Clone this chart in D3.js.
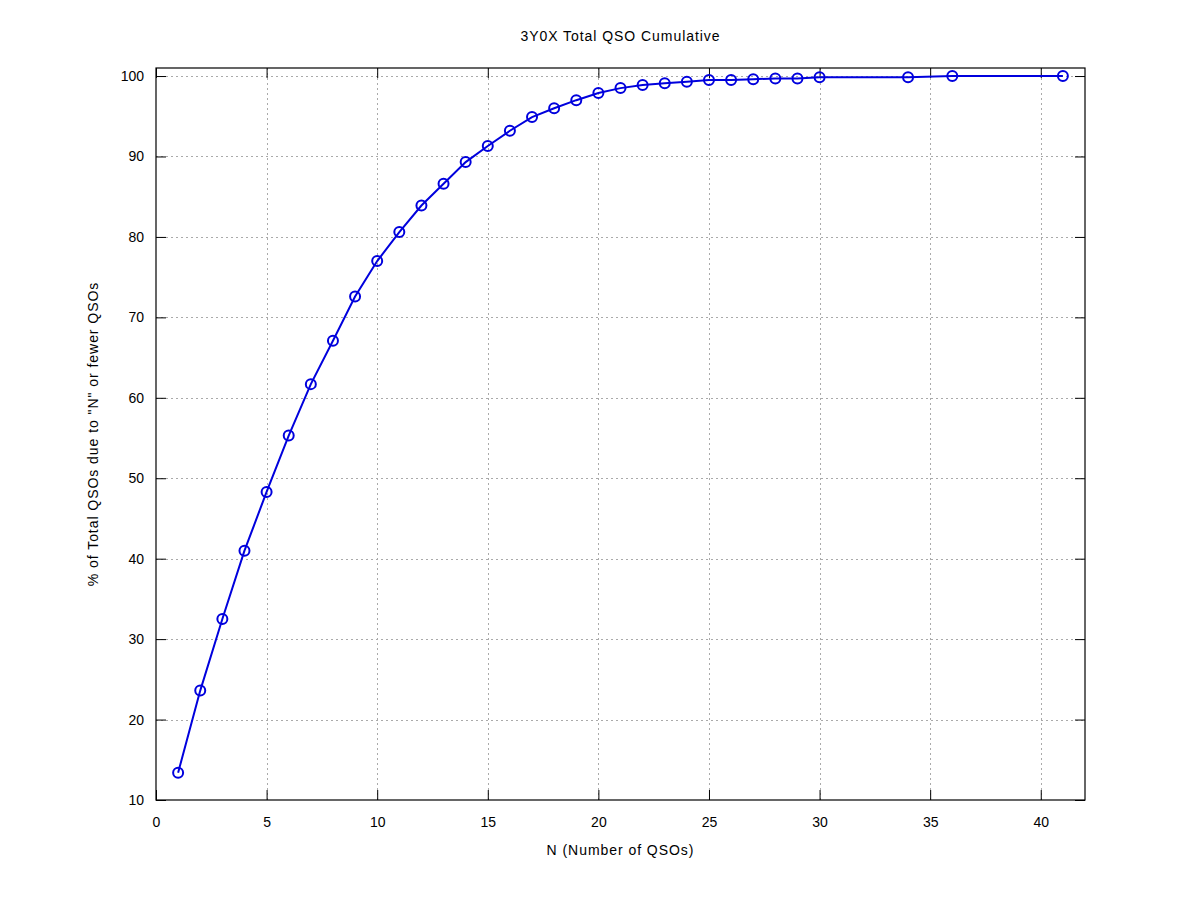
<!DOCTYPE html>
<html><head><meta charset="utf-8">
<script src="https://cdn.jsdelivr.net/npm/d3@7"></script>
<style>body{margin:0;background:#fff}svg{display:block}text{font-family:"Liberation Sans",Arial,sans-serif;}</style>
</head><body>
<svg id="c" width="1200" height="900"></svg>
<script>
const nValues = [1,2,3,4,5,6,7,8,9,10,11,12,13,14,15,16,17,18,19,20,21,22,23,24,25,26,27,28,29,30,34,36,41];
const pctValues = [13.4,23.6,32.5,41.0,48.3,55.3,61.7,67.1,72.6,77.0,80.6,83.9,86.6,89.3,91.3,93.2,94.9,96.0,97.0,97.9,98.5,98.9,99.1,99.3,99.5,99.5,99.6,99.7,99.7,99.85,99.85,100,100];
const xTicks = [0,5,10,15,20,25,30,35,40];
const yTicks = [10,20,30,40,50,60,70,80,90,100];
const titleText = "3Y0X Total QSO Cumulative";
const xLabel = "N (Number of QSOs)";
const yLabel = "% of Total QSOs due to \"N\" or fewer QSOs";

const svg = d3.select("#c");
const L=156, R=1085, T=68, B=800;
const x = d3.scaleLinear().domain([0,42]).range([L,R]);
const y = d3.scaleLinear().domain([10,101]).range([B,T]);

// grid
const g = svg.append("g");
g.selectAll(".gx").data(xTicks.filter(d=>d>0)).join("line")
  .attr("x1",d=>Math.round(x(d))+0.5).attr("x2",d=>Math.round(x(d))+0.5)
  .attr("y1",T).attr("y2",B).attr("stroke","#aaa").attr("stroke-dasharray","2,3");
g.selectAll(".gy").data(yTicks.filter(d=>d>10)).join("line")
  .attr("y1",d=>Math.round(y(d))+0.5).attr("y2",d=>Math.round(y(d))+0.5)
  .attr("x1",L).attr("x2",R).attr("stroke","#aaa").attr("stroke-dasharray","2,3");

// axes with inward ticks
const ax = (gen, tx, ty) => svg.append("g").attr("transform",`translate(${tx},${ty})`).call(gen);
const styleAxis = sel => { sel.select(".domain").remove(); sel.selectAll("text").attr("font-size",14).attr("fill","#000").attr("font-family","Liberation Sans, Arial, sans-serif"); sel.selectAll("line").attr("stroke","#000"); };
ax(d3.axisBottom(x).tickValues(xTicks).tickSize(-10).tickPadding(17).tickFormat(d3.format("d")), 0, B).call(styleAxis);
ax(d3.axisTop(x).tickValues(xTicks).tickSize(-10).tickFormat(""), 0, T).call(styleAxis);
ax(d3.axisLeft(y).tickValues(yTicks).tickSize(-10).tickPadding(12).tickFormat(d3.format("d")), L, 0).call(styleAxis);
ax(d3.axisRight(y).tickValues(yTicks).tickSize(-10).tickFormat(""), R, 0).call(styleAxis);

svg.append("rect").attr("x",L).attr("y",T).attr("width",R-L).attr("height",B-T)
  .attr("fill","none").attr("stroke","#000").attr("stroke-width",1.2);

// data
const data = nValues.map((n,i)=>({n, v:pctValues[i]}));
svg.append("path").datum(data)
  .attr("d", d3.line().x(d=>x(d.n)).y(d=>y(d.v)))
  .attr("fill","none").attr("stroke","#0000dd").attr("stroke-width",2);
svg.selectAll(".m").data(data).join("circle")
  .attr("cx",d=>x(d.n)).attr("cy",d=>y(d.v)).attr("r",5)
  .attr("fill","none").attr("stroke","#0000dd").attr("stroke-width",2);

// text
const lab = (sel)=>sel.attr("font-size",14).attr("letter-spacing","0.95px").attr("text-anchor","middle");
svg.append("text").attr("x",(L+R)/2).attr("y",41).call(lab).text(titleText);
svg.append("text").attr("x",(L+R)/2).attr("y",855).call(lab).text(xLabel);
svg.append("text").attr("transform",`translate(98,${(T+B)/2}) rotate(-90)`).call(lab).text(yLabel);
</script>
</body></html>
